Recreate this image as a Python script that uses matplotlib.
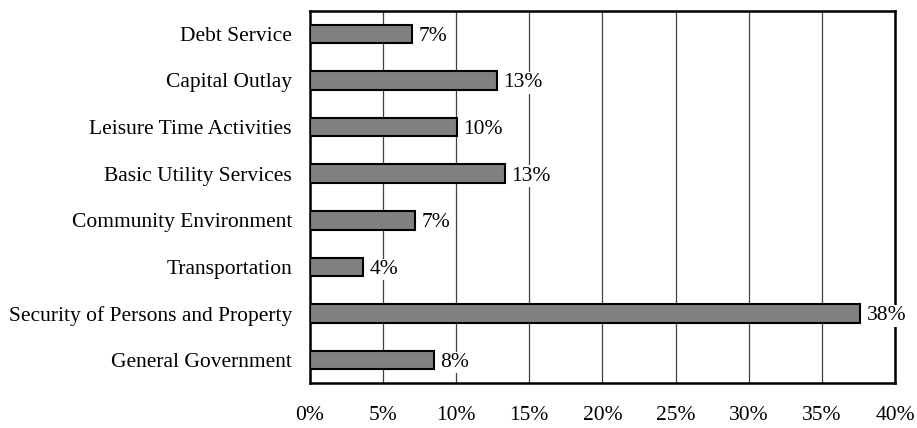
import matplotlib.pyplot as plt
import numpy as np

categories = ['Debt Service', 'Capital Outlay', 'Leisure Time Activities',
              'Basic Utility Services', 'Community Environment', 'Transportation',
              'Security of Persons and Property', 'General Government']
values = [6.95, 12.76, 10.03, 13.33, 7.2, 3.64, 37.6, 8.48]
labels = ['7%', '13%', '10%', '13%', '7%', '4%', '38%', '8%']
xticks = [0, 5, 10, 15, 20, 25, 30, 35, 40]

plt.rcParams['font.family'] = ['Liberation Serif', 'DejaVu Serif']

fig = plt.figure(figsize=(9.17, 4.28), dpi=100)
ax = fig.add_axes([0.338, 0.1044, 0.638, 0.871])

y = np.arange(len(categories))
ax.barh(y, values, height=0.4, color='#808080', edgecolor='black', linewidth=1.5, zorder=2)

for yi, v, lab in zip(y, values, labels):
    ax.text(v + 0.45, yi, lab, va='center_baseline', ha='left', fontsize=15.5, zorder=3,
            bbox=dict(facecolor='white', edgecolor='none', pad=1))

ax.set_xlim(0, 40)
ax.set_ylim(len(categories) - 0.5, -0.5)
ax.set_xticks(xticks)
ax.set_xticklabels([f'{t}%' for t in xticks], fontsize=15.5)
ax.set_yticks(y)
ax.set_yticklabels(categories, fontsize=15.5)
ax.tick_params(axis='both', length=0)
ax.tick_params(axis='x', pad=16)
ax.tick_params(axis='y', pad=13)

ax.xaxis.grid(True, color='#404040', linewidth=0.9, zorder=0)
ax.set_axisbelow(True)
for s in ax.spines.values():
    s.set_linewidth(1.8)
    s.set_zorder(1)

fig.savefig('out.png', dpi=100)
